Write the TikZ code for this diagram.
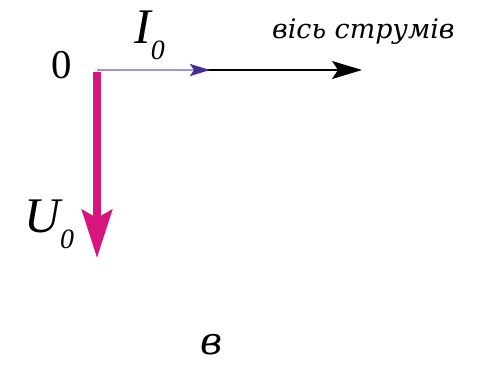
\documentclass[tikz,border=0pt]{standalone}
\usepackage{fontspec}
\setmainfont{Liberation Serif}
\newfontfamily\widefont{DejaVu Serif}
\usetikzlibrary{arrows.meta, positioning}
\definecolor{magenta1}{RGB}{214,22,124}
\definecolor{violet1}{RGB}{72,44,150}
\definecolor{lilac1}{RGB}{165,145,215}
\tikzstyle{axisline} = [line width=1.2bp, black, 
-{Stealth[length=30bp, width=18bp, inset=6bp]}]
\tikzstyle{current} = [line width=2.4bp, lilac1, 
-{Stealth[length=20bp, width=12bp, inset=4bp, color=violet1]}]
\tikzstyle{voltage} = [line width=8bp, magenta1, 
-{Stealth[length=48bp, width=30bp, inset=8bp]}]
\tikzstyle{biglabel} = [inner sep=0pt, font=\fontsize{41}{41}\selectfont]
\tikzstyle{veclabel} = [inner sep=0pt, font=\fontsize{50}{50}\selectfont]
\tikzstyle{smalllabel} = [inner sep=0pt, font=\widefont\itshape\fontsize{27}{27}\selectfont]
\newcommand{\vecname}[1]{{\itshape #1}\raisebox{-16bp}{\itshape\fontsize{28}{28}\selectfont 0}}

\begin{document}
\begin{tikzpicture}[x=1bp, y=-1bp]
        \useasboundingbox (0,0) rectangle (496,365);

        % --- Nodes ---
        \coordinate (O) at (97,70);
        \coordinate (axisend) at (362,70);
        \coordinate (iend) at (210,70);
        \coordinate (uend) at (97,258);

        \node (zero) [biglabel, anchor=base] at (62,78) {0};
        \node (ilabel) [veclabel, anchor=base west] at (134,43) {\vecname{I}};
        \node (ulabel) [veclabel, anchor=base west] at (24,232) {\vecname{U}};
        \node (axisname) [smalllabel, anchor=base west] at (272,38) {вісь струмів};
        \node (caption) [anchor=base, inner sep=0pt, font=\widefont\itshape\fontsize{38}{38}\selectfont] at (212,354) {в};

        % --- Vectors ---
        \draw [axisline] (O) -- (axisend);
        \draw [current] (O) -- (iend);
        \draw [voltage, line cap=butt] ([yshift=-2bp]O) -- (uend);

    \end{tikzpicture}
\end{document}
